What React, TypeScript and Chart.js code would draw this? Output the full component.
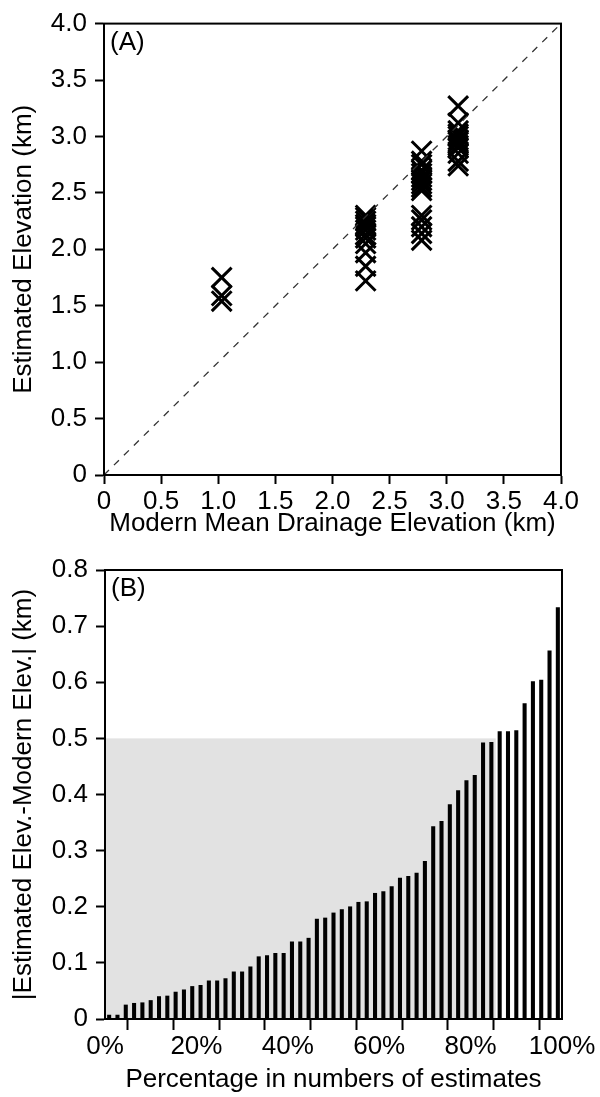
import React, { useEffect, useRef } from "react";
import { Chart, registerables } from "chart.js";

Chart.register(...registerables);

const FONT = "'Liberation Sans', Arial, Helvetica, sans-serif";
const FONT_SIZE = 26;

// ---------- Panel A data ----------
const modernElevations = [1.03, 2.29, 2.78, 3.1];
const estimatesAt1 = [1.75, 1.59, 1.54];
const estimatesAt2 = [2.3, 2.28, 2.25, 2.22, 2.2, 2.17, 2.13, 2.1, 2.05, 1.97, 1.85, 1.72];
const estimatesAt3 = [2.87, 2.78, 2.75, 2.7, 2.67, 2.64, 2.61, 2.58, 2.55, 2.52, 2.3, 2.26, 2.2, 2.14, 2.08];
const estimatesAt4 = [3.27, 3.12, 3.05, 3.02, 3.0, 2.97, 2.95, 2.92, 2.9, 2.85, 2.78, 2.74];
const oneToOneLine = [0, 4];
const axisRangeA = [0, 4];

// ---------- Panel B data ----------
const absErrors = [
  0.007, 0.007, 0.025, 0.028, 0.029, 0.033, 0.04, 0.041, 0.048, 0.052, 0.058, 0.06, 0.068, 0.068,
  0.072, 0.084, 0.084, 0.093, 0.111, 0.113, 0.117, 0.117, 0.1375, 0.1375, 0.144, 0.178, 0.18,
  0.189, 0.195, 0.2, 0.208, 0.209, 0.224, 0.227, 0.236, 0.251, 0.254, 0.26, 0.281, 0.343, 0.352,
  0.382, 0.407, 0.425, 0.434, 0.492, 0.493, 0.512, 0.512, 0.514, 0.562, 0.601, 0.604, 0.656, 0.733,
];
const rankLabels = absErrors.map((_, i) => String(i + 1));
const percentRange = [0, 100];
const errorRange = [0, 0.8];
const shadeThreshold = 0.5;
const shadeEndPercent = 85.5;

const clusters = [estimatesAt1, estimatesAt2, estimatesAt3, estimatesAt4];

const fmtTick = (v: number) => (v === 0 ? "0" : Number(v).toFixed(1));

const boxPlugin = (label: string) => ({
  id: "box" + label,
  afterDraw(chart: any) {
    const { ctx, chartArea } = chart;
    ctx.save();
    ctx.strokeStyle = "#000";
    ctx.lineWidth = 2;
    ctx.strokeRect(chartArea.left, chartArea.top, chartArea.right - chartArea.left, chartArea.bottom - chartArea.top);
    ctx.fillStyle = "#000";
    ctx.font = `${FONT_SIZE}px ${FONT}`;
    ctx.textBaseline = "top";
    ctx.textAlign = "left";
    ctx.fillText(label, chartArea.left + 6, chartArea.top + 6);
    ctx.restore();
  },
});

const shadePlugin = {
  id: "shade",
  beforeDatasetsDraw(chart: any) {
    const { ctx } = chart;
    const xs = chart.scales.x2;
    const ys = chart.scales.y;
    const x0 = xs.getPixelForValue(percentRange[0]);
    const x1 = xs.getPixelForValue(shadeEndPercent);
    const y0 = ys.getPixelForValue(0);
    const y1 = ys.getPixelForValue(shadeThreshold);
    ctx.save();
    ctx.fillStyle = "#e2e2e2";
    ctx.fillRect(x0, y1, x1 - x0, y0 - y1);
    ctx.restore();
  },
};

const axisCommon = (tickLength: number) => ({
  grid: {
    drawOnChartArea: false,
    drawTicks: true,
    tickLength,
    tickWidth: 2,
    tickColor: "#000",
  },
  border: { display: true, color: "#000", width: 2 },
});

export default function App() {
  const refA = useRef<HTMLCanvasElement>(null);
  const refB = useRef<HTMLCanvasElement>(null);

  useEffect(() => {
    Chart.defaults.font.family = FONT;
    Chart.defaults.font.size = FONT_SIZE;
    Chart.defaults.color = "#000";

    const scatterPoints = clusters.flatMap((ys, k) => ys.map((y) => ({ x: modernElevations[k], y })));

    const chartA = new Chart(refA.current!, {
      type: "scatter",
      data: {
        datasets: [
          {
            data: [
              { x: oneToOneLine[0], y: oneToOneLine[0] },
              { x: oneToOneLine[1], y: oneToOneLine[1] },
            ],
            showLine: true,
            borderColor: "#333",
            borderWidth: 1.3,
            borderDash: [7, 7],
            pointRadius: 0,
          },
          {
            data: scatterPoints,
            pointStyle: "crossRot",
            pointRadius: 14,
            pointBorderWidth: 3,
            borderColor: "#000",
            backgroundColor: "#000",
          } as any,
        ],
      },
      options: {
        animation: false,
        responsive: true,
        maintainAspectRatio: false,
        layout: { padding: { left: 0, right: 39, top: 17, bottom: 0 } },
        plugins: { legend: { display: false }, tooltip: { enabled: false } },
        scales: {
          x: {
            type: "linear",
            min: axisRangeA[0],
            max: axisRangeA[1],
            ...axisCommon(9),
            ticks: { stepSize: 0.5, callback: (v: any) => fmtTick(v), padding: 2, maxRotation: 0, autoSkip: false },
            title: { display: true, text: "Modern Mean Drainage Elevation (km)", padding: { top: 0, bottom: 6 } },
            afterFit: (s: any) => {
              s.height = 70;
            },
          },
          y: {
            type: "linear",
            min: axisRangeA[0],
            max: axisRangeA[1],
            ...axisCommon(9),
            ticks: { stepSize: 0.5, callback: (v: any) => fmtTick(v), padding: 8 },
            title: { display: true, text: "Estimated Elevation (km)", padding: { top: 8, bottom: 0 } },
            afterFit: (s: any) => {
              s.width = 104;
            },
          },
        },
      } as any,
      plugins: [boxPlugin("(A)")],
    });

    const chartB = new Chart(refB.current!, {
      type: "bar",
      data: {
        labels: rankLabels,
        datasets: [
          {
            data: absErrors,
            backgroundColor: "#000",
            borderWidth: 0,
            barThickness: 3.4,
          },
        ],
      },
      options: {
        animation: false,
        responsive: true,
        maintainAspectRatio: false,
        layout: { padding: { left: 0, right: 38, top: 25, bottom: 0 } },
        plugins: { legend: { display: false }, tooltip: { enabled: false } },
        scales: {
          x: { type: "category", display: false, offset: true },
          x2: {
            type: "linear",
            position: "bottom",
            min: percentRange[0],
            max: percentRange[1],
            offset: false,
            ...axisCommon(11),
            ticks: {
              stepSize: 10,
              autoSkip: false,
              maxRotation: 0,
              padding: 1,
              callback: (v: any) => (Number(v) % 20 === 0 ? `${v}%` : ""),
            },
            title: { display: true, text: "Percentage in numbers of estimates", padding: { top: 0, bottom: 2 } },
            afterFit: (s: any) => {
              s.height = 78;
            },
          },
          y: {
            type: "linear",
            min: errorRange[0],
            max: errorRange[1],
            ...axisCommon(9),
            ticks: { stepSize: 0.1, callback: (v: any) => fmtTick(v), padding: 8 },
            title: { display: true, text: "|Estimated Elev.-Modern Elev.| (km)", padding: { top: 8, bottom: 0 } },
            afterFit: (s: any) => {
              s.width = 105;
            },
          },
        },
      } as any,
      plugins: [shadePlugin, boxPlugin("(B)")],
    });

    return () => {
      chartA.destroy();
      chartB.destroy();
    };
  }, []);

  return (
    <div style={{ position: "absolute", left: 0, top: 0, width: 600, height: 1097, background: "#fff" }}>
      <div style={{ position: "absolute", left: 0, top: 0, width: 600, height: 545 }}>
        <canvas ref={refA} />
      </div>
      <div style={{ position: "absolute", left: 0, top: 545, width: 600, height: 552 }}>
        <canvas ref={refB} />
      </div>
    </div>
  );
}
